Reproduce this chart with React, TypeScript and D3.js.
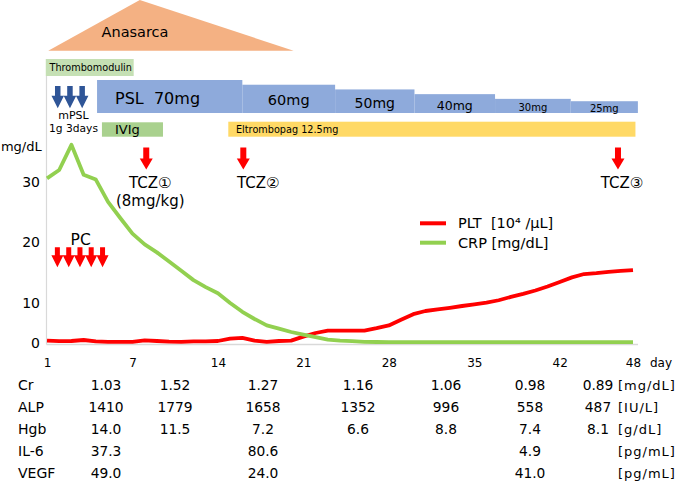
import React, { useEffect, useRef } from 'react';
import * as d3 from 'd3';

// day index 0 = hospital day 1
const crp = [30.6, 32.0, 36.2, 31.2, 30.4, 26.7, 24.0, 21.4, 19.6, 18.3, 16.8, 15.3, 13.75, 12.6, 11.6, 10.0, 7.8, 6.0, 4.4, 3.6, 2.75, 2.1, 1.45, 0.85, 0.6, 0.45, 0.3, 0.25, 0.22, 0.2, 0.2, 0.2, 0.2, 0.2, 0.2, 0.2, 0.2, 0.2, 0.2, 0.2, 0.2, 0.2, 0.2, 0.2, 0.2, 0.2, 0.2, 0.2, 0.2];
const plt = [0.6, 0.45, 0.5, 0.75, 0.4, 0.3, 0.3, 0.3, 0.65, 0.5, 0.35, 0.3, 0.4, 0.4, 0.5, 1.1, 1.3, 0.6, 0.3, 0.5, 0.6, 1.6, 2.5, 3.1, 3.1, 3.1, 3.1, 3.7, 4.4, 5.8, 7.2, 8.0, 8.4, 8.8, 9.25, 9.65, 10.05, 10.45, 11.0, 11.5, 12.05, 12.7, 13.45, 14.2, 14.75, 14.9, 15.1, 15.25, 15.4];

const dayTicks = [0, 7, 14, 21, 28, 35, 42, 48];
const dayTickLabels = ['1', '7', '14', '21', '28', '35', '42', '48'];
const yTicks = [0, 10, 20, 30];

// treatments (in day index units)
const anasarca = [0.1, 7.6, 20.2]; // start, peak, end
const thrombomodulin = [-0.1, 7.1];
const mpslDays = [0.88, 1.88, 2.88];
const pslDoses = [70, 60, 50, 40, 30, 25];
const pslStart = [4.1, 16, 23.6, 30.1, 36.7, 42.9];
const pslEnd = 48.4;
const pslLabels = ['PSL  70mg', '60mg', '50mg', '40mg', '30mg', '25mg'];
const ivig = [4.5, 9.5];
const eltrombopag = [14.85, 48.2];
const tczDays = [8.13, 16.08, 46.77];
const tczLabels = ['TCZ①', 'TCZ②', 'TCZ③'];
const pcDays = [0.85, 1.78, 2.7, 3.62, 4.55];

// lab table
const labNames = ['Cr', 'ALP', 'Hgb', 'IL-6', 'VEGF'];
const labUnits = ['[mg/dL]', '[IU/L]', '[g/dL]', '[pg/mL]', '[pg/mL]'];
const crVals = ['1.03', '1.52', '1.27', '1.16', '1.06', '0.98', '0.89'];
const alpVals = ['1410', '1779', '1658', '1352', '996', '558', '487'];
const hgbVals = ['14.0', '11.5', '7.2', '6.6', '8.8', '7.4', '8.1'];
const il6Vals = ['37.3', '', '80.6', '', '', '4.9', ''];
const vegfVals = ['49.0', '', '24.0', '', '', '41.0', ''];

const FONT = '"DejaVu Sans", Verdana, sans-serif';

const downArrow = (cx: number, top: number, bottom: number, w: number, shaftW: number, headLen: number) => {
  const hs = bottom - headLen;
  return `M${cx - shaftW / 2},${top}H${cx + shaftW / 2}V${hs}H${cx + w / 2}L${cx},${bottom}L${cx - w / 2},${hs}H${cx - shaftW / 2}Z`;
};

export default function App() {
  const svgRef = useRef<SVGSVGElement>(null);

  useEffect(() => {
    if (!svgRef.current) return;
    const svg = d3.select(svgRef.current);
    svg.selectAll('*').remove();

    const x = d3.scaleLinear().domain([0, 48]).range([47, 633]);
    const y = d3.scaleLinear().domain([0, 10, 20, 30]).range([343, 303, 242, 182]);
    const pslH = d3.scaleLinear().domain([0, 70]).range([0, 33]);

    // axis lines
    svg.append('line').attr('x1', 46.5).attr('x2', 46.5).attr('y1', 76).attr('y2', 344.5)
      .attr('stroke', '#d9d9d9').attr('stroke-width', 1.2);
    svg.append('line').attr('x1', 46.5).attr('x2', 638).attr('y1', 344.5).attr('y2', 344.5)
      .attr('stroke', '#d9d9d9').attr('stroke-width', 1.5);

    // Anasarca
    svg.append('path')
      .attr('d', `M${x(anasarca[0])},50.7L${x(anasarca[1])},0L${x(anasarca[2])},50.7Z`)
      .attr('fill', '#f4b183');
    svg.append('text').attr('x', 135).attr('y', 32).attr('text-anchor', 'middle')
      .attr('dominant-baseline', 'central').style('font-size', '14.5px').text('Anasarca');

    // Thrombomodulin
    svg.append('rect').attr('x', x(thrombomodulin[0])).attr('y', 59)
      .attr('width', x(thrombomodulin[1]) - x(thrombomodulin[0])).attr('height', 17).attr('fill', '#c5e0b4');
    svg.append('text').attr('x', 49.5).attr('y', 67.5).attr('dominant-baseline', 'central')
      .style('font-size', '9.7px').text('Thrombomodulin');

    // mPSL pulse
    svg.selectAll('.mpsl').data(mpslDays).join('path').attr('class', 'mpsl')
      .attr('d', d => downArrow(x(d), 86, 108.3, 12.5, 5.5, 12.5)).attr('fill', '#2f5597');
    svg.append('text').attr('x', 73.5).attr('y', 115.7).attr('text-anchor', 'middle')
      .attr('dominant-baseline', 'central').style('font-size', '11px').text('mPSL');
    svg.append('text').attr('x', 73.5).attr('y', 128.3).attr('text-anchor', 'middle')
      .attr('dominant-baseline', 'central').style('font-size', '10.7px').text('1g 3days');

    // PSL taper
    const pslEnds = pslStart.slice(1).concat([pslEnd]);
    const pslFont = [16, 14.5, 14, 12.5, 10, 10];
    pslDoses.forEach((dose, i) => {
      const x0 = x(pslStart[i]);
      const x1 = x(pslEnds[i]);
      const top = 113 - pslH(dose);
      svg.append('rect').attr('x', x0).attr('y', top).attr('width', x1 - x0).attr('height', 113 - top)
        .attr('fill', '#8eaadb');
      const mid = (top + 113) / 2 + 1.5;
      svg.append('text')
        .attr('x', i === 0 ? x0 + 18 : (x0 + x1) / 2)
        .attr('y', mid)
        .attr('text-anchor', i === 0 ? 'start' : 'middle')
        .attr('dominant-baseline', 'central')
        .style('font-size', `${pslFont[i]}px`)
        .style('white-space', 'pre')
        .text(pslLabels[i]);
    });

    // IVIg
    svg.append('rect').attr('x', x(ivig[0])).attr('y', 122.3).attr('width', x(ivig[1]) - x(ivig[0]))
      .attr('height', 14.4).attr('fill', '#a9d18e');
    svg.append('text').attr('x', 115).attr('y', 129.8).attr('dominant-baseline', 'central')
      .style('font-size', '13px').text('IVIg');

    // Eltrombopag
    svg.append('rect').attr('x', x(eltrombopag[0])).attr('y', 121.7)
      .attr('width', x(eltrombopag[1]) - x(eltrombopag[0])).attr('height', 15).attr('fill', '#ffd966');
    svg.append('text').attr('x', 236).attr('y', 129.2).attr('dominant-baseline', 'central')
      .style('font-size', '9.7px').text('Eltrombopag 12.5mg');

    // TCZ
    const tczOffset = [4, 15, 4];
    tczDays.forEach((d, i) => {
      svg.append('path').attr('d', downArrow(x(d), 147.5, 169.5, 13, 6, 11)).attr('fill', '#ff0000');
      svg.append('text').attr('x', x(d) + tczOffset[i]).attr('y', 183)
        .attr('text-anchor', 'middle').attr('dominant-baseline', 'central')
        .style('font-size', '15px').text(tczLabels[i]);
    });
    svg.append('text').attr('x', x(tczDays[0]) + 4).attr('y', 201)
      .attr('text-anchor', 'middle').attr('dominant-baseline', 'central')
      .style('font-size', '15px').text('(8mg/kg)');

    // PC
    svg.selectAll('.pc').data(pcDays).join('path').attr('class', 'pc')
      .attr('d', d => downArrow(x(d), 247.3, 267.3, 12, 5, 12)).attr('fill', '#ff0000');
    svg.append('text').attr('x', 80.7).attr('y', 240).attr('text-anchor', 'middle')
      .attr('dominant-baseline', 'central').style('font-size', '15.5px').text('PC');

    // y axis
    const yAxis = svg.append('g').attr('transform', 'translate(47,0)')
      .call(d3.axisLeft(y).tickValues(yTicks).tickSize(0).tickPadding(7));
    yAxis.select('.domain').remove();
    yAxis.selectAll('text').style('font-size', '14px').style('font-family', FONT).attr('fill', '#000');
    svg.append('text').attr('x', 41.7).attr('y', 146).attr('text-anchor', 'end')
      .attr('dominant-baseline', 'central').style('font-size', '13px').text('mg/dL');

    // x axis
    const xAxis = svg.append('g').attr('transform', 'translate(0,344)')
      .call(d3.axisBottom(x).tickValues(dayTicks).tickSize(0).tickPadding(14)
        .tickFormat((d, i) => dayTickLabels[i]));
    xAxis.select('.domain').remove();
    xAxis.selectAll('text').style('font-size', '12px').style('font-family', FONT).attr('fill', '#000');
    svg.append('text').attr('x', 650).attr('y', 362.7).attr('dominant-baseline', 'central')
      .style('font-size', '12px').text('day');

    // lines
    const line = d3.line<number>().x((_, i) => x(i)).y(d => y(d));
    svg.append('path').datum(plt).attr('d', line).attr('fill', 'none')
      .attr('stroke', '#ff0000').attr('stroke-width', 3.8).attr('stroke-linejoin', 'round');
    svg.append('path').datum(crp).attr('d', line).attr('fill', 'none')
      .attr('stroke', '#92d050').attr('stroke-width', 3.8).attr('stroke-linejoin', 'round');

    // legend
    const legend = [
      { label: 'PLT  [10⁴ /μL]', color: '#ff0000', y: 223.3 },
      { label: 'CRP [mg/dL]', color: '#92d050', y: 242.7 },
    ];
    legend.forEach(l => {
      svg.append('line').attr('x1', 420).attr('x2', 446).attr('y1', l.y).attr('y2', l.y)
        .attr('stroke', l.color).attr('stroke-width', 4);
      svg.append('text').attr('x', 458).attr('y', l.y).attr('dominant-baseline', 'central')
        .style('font-size', '14.5px').style('white-space', 'pre').text(l.label);
    });

    // lab table
    const rows = [crVals, alpVals, hgbVals, il6Vals, vegfVals];
    const colX = [106, 175, 263, 358, 446, 530, 598];
    rows.forEach((vals, r) => {
      const ry = 385 + r * 22;
      svg.append('text').attr('x', 18).attr('y', ry).attr('dominant-baseline', 'central')
        .style('font-size', '14px').text(labNames[r]);
      vals.forEach((v, c) => {
        if (!v) return;
        svg.append('text').attr('x', colX[c]).attr('y', ry).attr('text-anchor', 'middle')
          .attr('dominant-baseline', 'central').style('font-size', '13.8px').text(v);
      });
      svg.append('text').attr('x', 618).attr('y', ry).attr('dominant-baseline', 'central')
        .style('font-size', '13px').style('letter-spacing', '1px').text(labUnits[r]);
    });

    svg.selectAll('text').style('font-family', FONT).attr('fill', '#000');
  }, []);

  return (
    <svg
      ref={svgRef}
      width={685}
      height={481}
      style={{ position: 'absolute', left: 0, top: 0, background: '#fff' }}
    />
  );
}
